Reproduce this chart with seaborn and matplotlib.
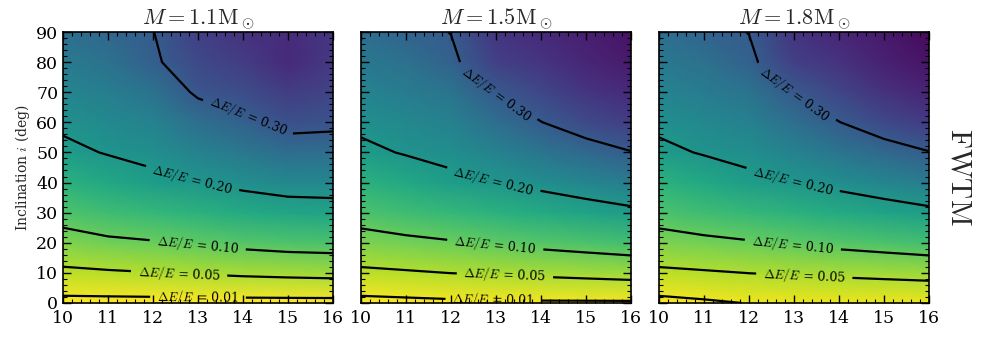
import numpy as np
import matplotlib
matplotlib.use("Agg")
import matplotlib.pyplot as plt
from matplotlib.ticker import MultipleLocator
import seaborn as sns

# ---------------- data ----------------
radius = [10, 11, 12, 13, 14, 15, 16]
inclination = [0, 10, 20, 30, 40, 50, 60, 70, 80, 90]
masses = ["1.1", "1.5", "1.8"]
levels = [0.01, 0.05, 0.10, 0.20, 0.30]
level_labels = ["0.01", "0.05", "0.10", "0.20", "0.30"]

# rows: inclination 0..90, columns: radius 10..16
fwtm_m11 = [
    [0.000, 0.000, 0.000, 0.000, 0.000, 0.000, 0.000],
    [0.0418, 0.0455, 0.049, 0.0526, 0.0563, 0.059, 0.0611],
    [0.082, 0.0917, 0.0967, 0.1048, 0.112, 0.118, 0.1206],
    [0.118, 0.131, 0.140, 0.152, 0.165, 0.173, 0.176],
    [0.151, 0.169, 0.188, 0.199, 0.213, 0.224, 0.2256],
    [0.188, 0.203, 0.213, 0.234, 0.252, 0.272, 0.270],
    [0.2096, 0.223, 0.236, 0.269, 0.290, 0.317, 0.313],
    [0.228, 0.242, 0.262, 0.308, 0.322, 0.345, 0.335],
    [0.247, 0.261, 0.293, 0.328, 0.345, 0.370, 0.350],
    [0.266, 0.281, 0.299, 0.340, 0.360, 0.368, 0.355],
]
fwtm_m15 = [
    [0.000, 0.002, 0.004, 0.0052, 0.006, 0.006, 0.006],
    [0.0422, 0.046, 0.0505, 0.053, 0.0567, 0.060, 0.0635],
    [0.0827, 0.090, 0.0963, 0.104, 0.112, 0.119, 0.1265],
    [0.119, 0.130, 0.140, 0.152, 0.1644, 0.176, 0.188],
    [0.152, 0.168, 0.188, 0.199, 0.2137, 0.2286, 0.2438],
    [0.189, 0.2035, 0.214, 0.234, 0.2564, 0.278, 0.298],
    [0.211, 0.224, 0.2365, 0.268, 0.299, 0.325, 0.343],
    [0.231, 0.245, 0.259, 0.302, 0.330, 0.355, 0.370],
    [0.250, 0.265, 0.290, 0.340, 0.355, 0.375, 0.390],
    [0.268, 0.286, 0.301, 0.355, 0.370, 0.385, 0.400],
]
fwtm_m18 = [
    [0.000, 0.0051, 0.011, 0.012, 0.012, 0.012, 0.012],
    [0.0422, 0.046, 0.0505, 0.053, 0.0567, 0.060, 0.0635],
    [0.0827, 0.090, 0.0963, 0.104, 0.112, 0.119, 0.1265],
    [0.119, 0.130, 0.140, 0.152, 0.1644, 0.176, 0.188],
    [0.152, 0.168, 0.188, 0.199, 0.2137, 0.2286, 0.2438],
    [0.189, 0.2035, 0.214, 0.234, 0.2564, 0.278, 0.298],
    [0.211, 0.224, 0.2365, 0.268, 0.299, 0.327, 0.347],
    [0.231, 0.245, 0.259, 0.302, 0.332, 0.360, 0.378],
    [0.250, 0.265, 0.290, 0.340, 0.358, 0.382, 0.398],
    [0.268, 0.286, 0.301, 0.357, 0.375, 0.392, 0.410],
]
panels = [fwtm_m11, fwtm_m15, fwtm_m18]

# label placement (layout only)
label_spots = [
    [(13.0, 1.8), (12.58, 10.1), (12.99, 18.8), (12.86, 40.4), (14.1, 61.5)],
    [(12.94, 1.2), (13.2, 9.7), (12.98, 18.8), (12.94, 40.4), (12.98, 68.8)],
    [(13.23, 9.7), (12.97, 18.8), (12.97, 40.4), (13.0, 68.8)],
]

# ---------------- style ----------------
sns.set_style("ticks")
plt.rcParams.update({
    "font.family": ["DejaVu Serif"],
    "mathtext.fontset": "cm",
    "xtick.direction": "in",
    "ytick.direction": "in",
    "xtick.top": True,
    "ytick.right": True,
    "xtick.major.size": 6,
    "ytick.major.size": 6,
    "xtick.minor.size": 3,
    "ytick.minor.size": 3,
    "xtick.major.width": 1.0,
    "ytick.major.width": 1.0,
    "xtick.minor.width": 0.8,
    "ytick.minor.width": 0.8,
    "axes.edgecolor": "black",
    "axes.linewidth": 1.2,
    "xtick.color": "black",
    "ytick.color": "black",
    "xtick.labelsize": 12.5,
    "ytick.labelsize": 12.5,
})

cmap = sns.color_palette("viridis_r", as_cmap=True)

fig, axes = plt.subplots(1, 3, figsize=(9.82, 3.37), dpi=100, sharey=True)
fig.subplots_adjust(left=0.0642, right=0.946, bottom=0.101, top=0.905, wspace=0.104)

fmt = {lv: r"$\Delta E/E$ = " + lab for lv, lab in zip(levels, level_labels)}

for ax, data, m, spots in zip(axes, panels, masses, label_spots):
    Z = np.array(data)
    ax.pcolormesh(radius, inclination, Z, shading="gouraud", cmap=cmap,
                  vmin=0.0, vmax=0.42, zorder=0)
    cs = ax.contour(radius, inclination, Z, levels=levels, colors="k",
                    linewidths=1.6, zorder=1)
    ax.clabel(cs, fmt=fmt, fontsize=9, inline=True, inline_spacing=7,
              manual=spots)
    ax.set_xlim(10, 16)
    ax.set_ylim(0, 90)
    ax.set_xticks(radius)
    ax.set_yticks(inclination)
    ax.xaxis.set_minor_locator(MultipleLocator(0.2))
    ax.yaxis.set_minor_locator(MultipleLocator(2))
    ax.tick_params(which="both", direction="in", top=True, right=True,
                   bottom=True, left=True, color="black")
    ax.tick_params(axis="x", which="major", pad=5)
    ax.set_axisbelow(False)
    ax.set_title(r"$M = " + m + r"\mathrm{M}_\odot$", fontsize=16, pad=1)
    for sp in ax.spines.values():
        sp.set_zorder(5)

axes[0].set_ylabel(r"Inclination $i$ (deg)", fontsize=10, labelpad=3)
for ax in axes[1:]:
    ax.tick_params(labelleft=False)

fig.text(0.9766, 0.475, r"$\mathrm{FWTM}$", rotation=270, fontsize=21,
         ha="center", va="center")

fig.savefig("out.png", dpi=100)
